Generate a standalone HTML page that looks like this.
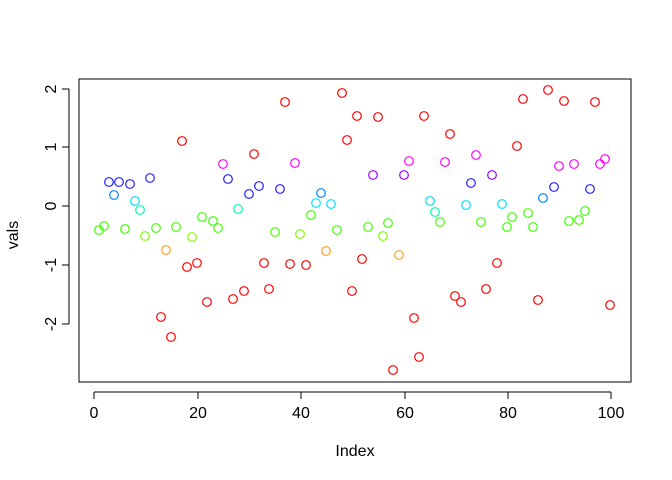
<!DOCTYPE html><html><head><style>body{margin:0;background:#fff}svg{display:block;font-family:"Liberation Sans",sans-serif}</style></head><body>
<svg width="672" height="480" xmlns="http://www.w3.org/2000/svg">
<rect x="79" y="79" width="552" height="303" fill="none" stroke="#000" stroke-width="1"/>
<g stroke="#000" fill="none">
<line x1="94" y1="392" x2="611" y2="392"/>
<line x1="94" y1="392" x2="94" y2="399"/><line x1="198" y1="392" x2="198" y2="399"/><line x1="301" y1="392" x2="301" y2="399"/><line x1="405" y1="392" x2="405" y2="399"/><line x1="508" y1="392" x2="508" y2="399"/><line x1="611" y1="392" x2="611" y2="399"/>
<line x1="69" y1="89" x2="69" y2="324"/>
<line x1="62" y1="89" x2="69" y2="89"/><line x1="62" y1="147" x2="69" y2="147"/><line x1="62" y1="206" x2="69" y2="206"/><line x1="62" y1="265" x2="69" y2="265"/><line x1="62" y1="324" x2="69" y2="324"/>
</g>
<g font-size="16" text-anchor="middle" fill="#000">
<text x="94" y="418">0</text><text x="198" y="418">20</text><text x="301" y="418">40</text><text x="405" y="418">60</text><text x="508" y="418">80</text><text x="611" y="418">100</text>
<text x="355" y="456">Index</text>
<text transform="translate(56,89) rotate(-90)">2</text>
<text transform="translate(56,147) rotate(-90)">1</text>
<text transform="translate(56,206) rotate(-90)">0</text>
<text transform="translate(56,265) rotate(-90)">-1</text>
<text transform="translate(56,324) rotate(-90)">-2</text>
<text transform="translate(18,235) rotate(-90)">vals</text>
</g>
<g fill="none" stroke-width="1.2">
<g stroke="#ff0000">
<circle cx="161" cy="317" r="4.3"/><circle cx="171" cy="337" r="4.3"/><circle cx="182" cy="141" r="4.3"/><circle cx="187" cy="267" r="4.3"/><circle cx="197" cy="263" r="4.3"/><circle cx="207" cy="302" r="4.3"/><circle cx="233" cy="299" r="4.3"/><circle cx="244" cy="291" r="4.3"/><circle cx="254" cy="154" r="4.3"/><circle cx="264" cy="263" r="4.3"/><circle cx="269" cy="289" r="4.3"/><circle cx="285" cy="102" r="4.3"/><circle cx="290" cy="264" r="4.3"/><circle cx="306" cy="265" r="4.3"/><circle cx="342" cy="93" r="4.3"/><circle cx="347" cy="140" r="4.3"/><circle cx="352" cy="291" r="4.3"/><circle cx="357" cy="116" r="4.3"/><circle cx="362" cy="259" r="4.3"/><circle cx="378" cy="117" r="4.3"/><circle cx="393" cy="370" r="4.3"/><circle cx="414" cy="318" r="4.3"/><circle cx="419" cy="357" r="4.3"/><circle cx="424" cy="116" r="4.3"/><circle cx="450" cy="134" r="4.3"/><circle cx="455" cy="296" r="4.3"/><circle cx="461" cy="302" r="4.3"/><circle cx="486" cy="289" r="4.3"/><circle cx="497" cy="263" r="4.3"/><circle cx="517" cy="146" r="4.3"/><circle cx="523" cy="99" r="4.3"/><circle cx="538" cy="300" r="4.3"/><circle cx="548" cy="90" r="4.3"/><circle cx="564" cy="101" r="4.3"/><circle cx="595" cy="102" r="4.3"/><circle cx="610" cy="305" r="4.3"/>
</g>
<g stroke="#ffa020"><circle cx="166" cy="250" r="4.3"/><circle cx="326" cy="251" r="4.3"/><circle cx="399" cy="255" r="4.3"/></g>
<g stroke="#80ff00"><circle cx="145" cy="236" r="4.3"/><circle cx="192" cy="237" r="4.3"/><circle cx="300" cy="234" r="4.3"/><circle cx="383" cy="236" r="4.3"/></g>
<g stroke="#40ff00">
<circle cx="99" cy="230" r="4.3"/><circle cx="104" cy="226" r="4.3"/><circle cx="125" cy="229" r="4.3"/><circle cx="156" cy="228" r="4.3"/><circle cx="176" cy="227" r="4.3"/><circle cx="202" cy="217" r="4.3"/><circle cx="213" cy="221" r="4.3"/><circle cx="218" cy="228" r="4.3"/><circle cx="275" cy="232" r="4.3"/><circle cx="311" cy="215" r="4.3"/><circle cx="337" cy="230" r="4.3"/><circle cx="368" cy="227" r="4.3"/><circle cx="388" cy="223" r="4.3"/><circle cx="440" cy="222" r="4.3"/><circle cx="481" cy="222" r="4.3"/><circle cx="507" cy="227" r="4.3"/><circle cx="512" cy="217" r="4.3"/><circle cx="528" cy="213" r="4.3"/><circle cx="533" cy="227" r="4.3"/><circle cx="569" cy="221" r="4.3"/><circle cx="579" cy="220" r="4.3"/><circle cx="585" cy="211" r="4.3"/>
</g>
<g stroke="#00ffa0"><circle cx="140" cy="210" r="4.3"/><circle cx="238" cy="209" r="4.3"/><circle cx="435" cy="212" r="4.3"/></g>
<g stroke="#00e0ff"><circle cx="135" cy="201" r="4.3"/><circle cx="316" cy="203" r="4.3"/><circle cx="331" cy="204" r="4.3"/><circle cx="430" cy="201" r="4.3"/><circle cx="466" cy="205" r="4.3"/><circle cx="502" cy="204" r="4.3"/></g>
<g stroke="#0080ff"><circle cx="114" cy="195" r="4.3"/><circle cx="321" cy="193" r="4.3"/><circle cx="543" cy="198" r="4.3"/></g>
<g stroke="#2020ff">
<circle cx="109" cy="182" r="4.3"/><circle cx="119" cy="182" r="4.3"/><circle cx="130" cy="184" r="4.3"/><circle cx="150" cy="178" r="4.3"/><circle cx="228" cy="179" r="4.3"/><circle cx="249" cy="194" r="4.3"/><circle cx="259" cy="186" r="4.3"/><circle cx="280" cy="189" r="4.3"/><circle cx="471" cy="183" r="4.3"/><circle cx="554" cy="187" r="4.3"/><circle cx="590" cy="189" r="4.3"/>
</g>
<g stroke="#a000ff"><circle cx="373" cy="175" r="4.3"/><circle cx="404" cy="175" r="4.3"/><circle cx="492" cy="175" r="4.3"/></g>
<g stroke="#ff00ff">
<circle cx="223" cy="164" r="4.3"/><circle cx="295" cy="163" r="4.3"/><circle cx="409" cy="161" r="4.3"/><circle cx="445" cy="162" r="4.3"/><circle cx="476" cy="155" r="4.3"/><circle cx="559" cy="166" r="4.3"/><circle cx="574" cy="164" r="4.3"/><circle cx="600" cy="164" r="4.3"/><circle cx="605" cy="159" r="4.3"/>
</g>
</g>
</svg></body></html>
